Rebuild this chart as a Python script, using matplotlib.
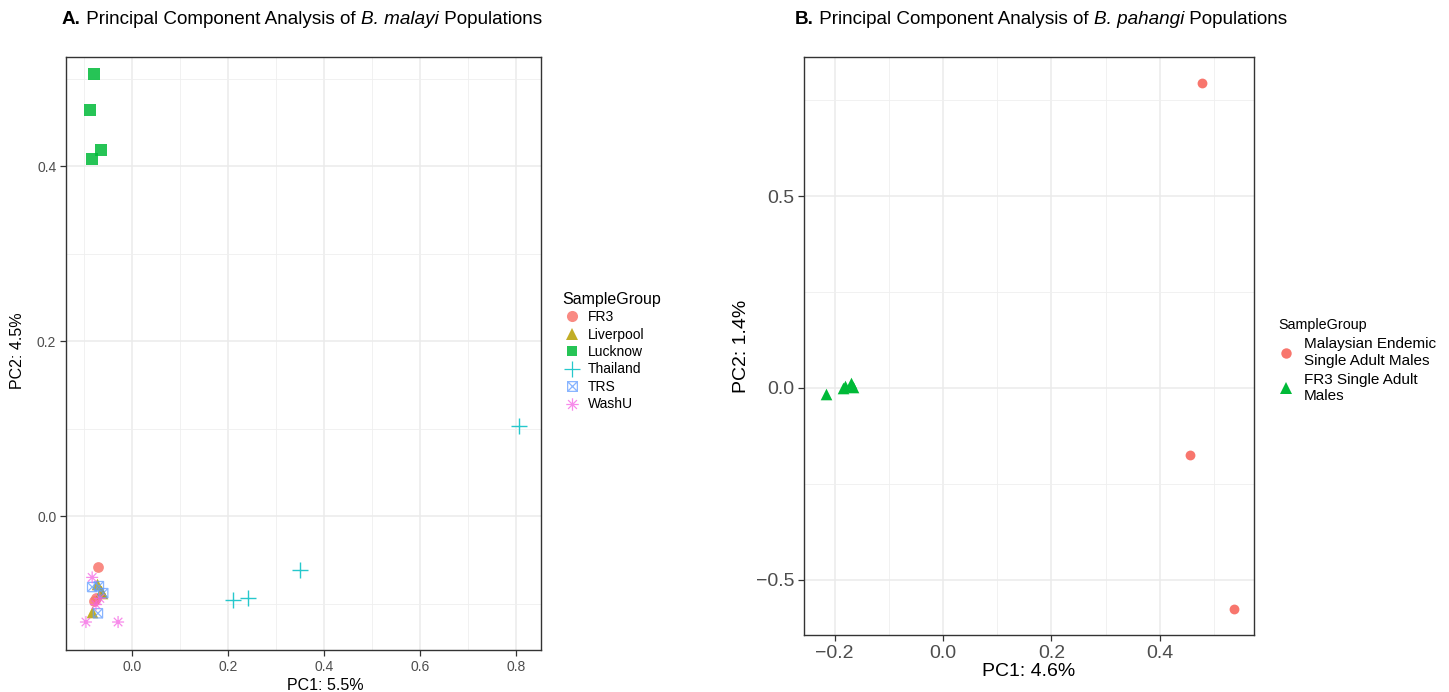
import matplotlib
matplotlib.use("Agg")
import matplotlib.pyplot as plt
from matplotlib.path import Path
from matplotlib.lines import Line2D
from matplotlib.ticker import MultipleLocator

plt.rcParams['font.family'] = ['Liberation Sans', 'DejaVu Sans']

# ---------------- Data: Panel A (B. malayi) ----------------
groups_a = ["FR3", "Liverpool", "Lucknow", "Thailand", "TRS", "WashU"]
colors_a = ["#F8766D", "#B79F00", "#00BA38", "#00BFC4", "#619CFF", "#F564E3"]

fr3_x = [-0.071, -0.079, -0.075]
fr3_y = [-0.058, -0.097, -0.094]
liverpool_x = [-0.073, -0.065, -0.062, -0.083]
liverpool_y = [-0.078, -0.086, -0.088, -0.109]
lucknow_x = [-0.079, -0.0875, -0.065, -0.083]
lucknow_y = [0.505, 0.464, 0.419, 0.408]
thailand_x = [0.806, 0.350, 0.242, 0.210]
thailand_y = [0.103, -0.061, -0.094, -0.096]
trs_x = [-0.083, -0.069, -0.060, -0.071]
trs_y = [-0.081, -0.080, -0.088, -0.111]
washu_x = [-0.083, -0.067, -0.075, -0.096, -0.029]
washu_y = [-0.070, -0.094, -0.101, -0.121, -0.121]

# ---------------- Data: Panel B (B. pahangi) ----------------
groups_b = ["Malaysian Endemic\nSingle Adult Males", "FR3 Single Adult\nMales"]
colors_b = ["#F8766D", "#00BA38"]
mal_x = [0.478, 0.456, 0.537]
mal_y = [0.796, -0.175, -0.576]
fr3b_x = [-0.216, -0.185, -0.181, -0.170, -0.166]
fr3b_y = [-0.016, 0.000, 0.005, 0.013, 0.003]

# ---------------- custom markers ----------------
box_x = Path([(-1, -1), (1, -1), (1, 1), (-1, 1), (-1, -1),
              (-1, -1), (1, 1), (-1, 1), (1, -1)],
             [Path.MOVETO, Path.LINETO, Path.LINETO, Path.LINETO, Path.LINETO,
              Path.MOVETO, Path.LINETO, Path.MOVETO, Path.LINETO])
d = 0.7071
aster = Path([(-1, 0), (1, 0), (0, -1), (0, 1), (-d, -d), (d, d), (-d, d), (d, -d)],
             [Path.MOVETO, Path.LINETO] * 4)

fig = plt.figure(figsize=(14.49, 6.92), dpi=100)
W, H = 1449, 692
renderer = fig.canvas.get_renderer()

def rich_title(x_px, y_px, pieces, fs):
    x = x_px / W
    for txt, weight, style in pieces:
        t = fig.text(x, 1 - y_px / H, txt, fontsize=fs, fontweight=weight,
                     fontstyle=style, va="center", ha="left")
        bb = t.get_window_extent(renderer=renderer)
        x += bb.width / W

def style_ax(ax, fs_tick):
    ax.set_facecolor("white")
    for s in ax.spines.values():
        s.set_color("#333333")
        s.set_linewidth(1.0)
    ax.grid(which="major", color="#EBEBEB", linewidth=1.1, zorder=0)
    ax.grid(which="minor", color="#EFEFEF", linewidth=0.6, zorder=0)
    ax.set_axisbelow(True)
    ax.tick_params(which="major", direction="out", length=4, width=0.9,
                   color="#333333", labelcolor="#4D4D4D", labelsize=fs_tick, pad=3)
    ax.tick_params(which="minor", length=0)

# ---------------- Panel A ----------------
axA = fig.add_axes([66 / W, 1 - 650 / H, (541 - 66) / W, (650 - 57) / H])
style_ax(axA, 10)
alpha = 0.85
alpha_line = 0.75
axA.scatter(fr3_x, fr3_y, s=60, marker="o", color=colors_a[0], alpha=alpha, linewidths=0, zorder=3)
axA.scatter(liverpool_x, liverpool_y, s=70, marker="^", color=colors_a[1], alpha=alpha, linewidths=0, zorder=3)
axA.scatter(lucknow_x, lucknow_y, s=65, marker="s", color=colors_a[2], alpha=alpha, linewidths=0, zorder=3)
axA.scatter(thailand_x, thailand_y, s=120, marker="+", color=colors_a[3], alpha=alpha, linewidths=1.0, zorder=3)
axA.scatter(trs_x, trs_y, s=45, marker=box_x, facecolors="none", edgecolors=colors_a[4], alpha=alpha_line, linewidths=0.9, zorder=3)
axA.scatter(washu_x, washu_y, s=75, marker=aster, facecolors="none", edgecolors=colors_a[5], alpha=alpha_line, linewidths=0.9, zorder=3)

axA.set_xlim(-0.1375, 0.852)
axA.set_ylim(-0.153, 0.525)
axA.xaxis.set_minor_locator(MultipleLocator(0.1))
axA.yaxis.set_minor_locator(MultipleLocator(0.1))
axA.set_xticks([0.0, 0.2, 0.4, 0.6, 0.8])
axA.set_xticklabels(["0.0", "0.2", "0.4", "0.6", "0.8"])
axA.set_yticks([0.0, 0.2, 0.4])
axA.set_yticklabels(["0.0", "0.2", "0.4"])
axA.set_xlabel("PC1: 5.5%", fontsize=11.5)
axA.set_ylabel("PC2: 4.5%", fontsize=11.5)
axA.xaxis.set_label_coords((325 - 66) / 475, -(686 - 650) / 593, transform=axA.transAxes)
axA.yaxis.set_label_coords(-(66 - 18) / 475, 0.505, transform=axA.transAxes)
axA.xaxis.label.set_va("center")
axA.yaxis.label.set_va("center")
rich_title(62, 20, [("A.", "bold", "normal"),
                    (" Principal Component Analysis of ", "normal", "normal"),
                    ("B. malayi", "normal", "italic"),
                    (" Populations", "normal", "normal")], 13.6)

markers_a = ["o", "^", "s", "+", box_x, aster]
handles_a = []
for i, g in enumerate(groups_a):
    m = markers_a[i]
    if i < 3:
        h = Line2D([], [], linestyle="none", marker=m, markersize=8 if i != 2 else 7.5,
                   markerfacecolor=colors_a[i], markeredgewidth=0, alpha=alpha)
    else:
        h = Line2D([], [], linestyle="none", marker=m,
                   markersize=12 if i == 3 else (7 if i == 4 else 9),
                   markerfacecolor="none", markeredgecolor=colors_a[i],
                   markeredgewidth=0.9, alpha=alpha if i == 3 else alpha_line)
    handles_a.append(h)
legA = fig.legend(handles_a, groups_a, title="SampleGroup", loc="upper left",
                  bbox_to_anchor=(557 / W, 1 - 286 / H), frameon=False,
                  fontsize=10, title_fontsize=11.5, handlelength=1.3,
                  handletextpad=0.5, labelspacing=0.25, borderaxespad=0)
legA._legend_box.align = "left"

# ---------------- Panel B ----------------
axB = fig.add_axes([804 / W, 1 - 635 / H, (1254 - 804) / W, (635 - 57) / H])
style_ax(axB, 14)
axB.scatter(mal_x, mal_y, s=50, marker="o", color=colors_b[0], linewidths=0, zorder=3)
axB.scatter(fr3b_x, fr3b_y, s=70, marker="^", color=colors_b[1], linewidths=0, zorder=3)
axB.set_xlim(-0.2566, 0.574)
axB.set_ylim(-0.644, 0.863)
axB.xaxis.set_minor_locator(MultipleLocator(0.1))
axB.yaxis.set_minor_locator(MultipleLocator(0.25))
axB.set_xticks([-0.2, 0.0, 0.2, 0.4])
axB.set_xticklabels(["\u22120.2", "0.0", "0.2", "0.4"])
axB.set_yticks([-0.5, 0.0, 0.5])
axB.set_yticklabels(["\u22120.5", "0.0", "0.5"])
axB.set_xlabel("PC1: 4.6%", fontsize=14)
axB.set_ylabel("PC2: 1.4%", fontsize=14)
axB.xaxis.set_label_coords(0.5, -(672 - 635) / 578, transform=axB.transAxes)
axB.yaxis.set_label_coords(-(804 - 742) / 450, 0.5, transform=axB.transAxes)
axB.xaxis.label.set_va("center")
axB.yaxis.label.set_va("center")
rich_title(795, 20, [("B.", "bold", "normal"),
                     (" Principal Component Analysis of ", "normal", "normal"),
                     ("B. pahangi", "normal", "italic"),
                     (" Populations", "normal", "normal")], 13.6)

handles_b = [
    Line2D([], [], linestyle="none", marker="o", markersize=7.5, markerfacecolor=colors_b[0], markeredgewidth=0),
    Line2D([], [], linestyle="none", marker="^", markersize=8.5, markerfacecolor=colors_b[1], markeredgewidth=0),
]
legB = fig.legend(handles_b, groups_b, title="SampleGroup", loc="upper left",
                  bbox_to_anchor=(1272 / W, 1 - 312 / H), frameon=False,
                  fontsize=11, title_fontsize=10.3, handlelength=1.0,
                  handletextpad=0.7, labelspacing=0.35, borderaxespad=0)
legB._legend_box.align = "left"

fig.savefig("out.png", dpi=100, facecolor="white")
